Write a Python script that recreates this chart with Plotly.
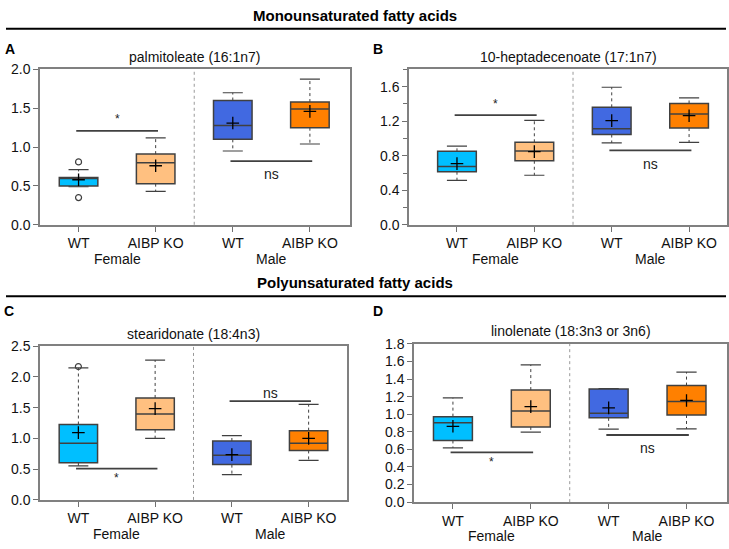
import plotly.graph_objects as go

W, H = 729, 549

groups = ["WT", "AIBP KO", "WT", "AIBP KO"]
sexes = ["Female", "Male"]
colors = ["#00BFFF", "#FFC080", "#4169E1", "#FF8000"]

# Panel A: palmitoleate (16:1n7)
A_q1 = [0.50, 0.53, 1.10, 1.25]
A_med = [0.60, 0.80, 1.28, 1.49]
A_q3 = [0.61, 0.91, 1.60, 1.58]
A_lo = [0.49, 0.43, 0.95, 1.04]
A_hi = [0.71, 1.12, 1.70, 1.875]
A_mean = [0.58, 0.76, 1.31, 1.46]
A_out_x = [0, 0]
A_out_y = [0.81, 0.35]

# Panel B: 10-heptadecenoate (17:1n7)
B_q1 = [0.615, 0.742, 1.046, 1.121]
B_med = [0.675, 0.855, 1.114, 1.283]
B_q3 = [0.851, 0.956, 1.361, 1.406]
B_lo = [0.514, 0.574, 0.949, 0.956]
B_hi = [0.911, 1.211, 1.594, 1.47]
B_mean = [0.709, 0.848, 1.207, 1.264]
B_out_x = []
B_out_y = []

# Panel C: stearidonate (18:4n3)
C_q1 = [0.605, 1.142, 0.574, 0.805]
C_med = [0.921, 1.395, 0.726, 0.921]
C_q3 = [1.226, 1.658, 0.958, 1.126]
C_lo = [0.553, 1.0, 0.41, 0.642]
C_hi = [2.147, 2.274, 1.047, 1.553]
C_mean = [1.095, 1.484, 0.737, 1.0]
C_out_x = [0]
C_out_y = [2.168]

# Panel D: linolenate (18:3n3 or 3n6)
D_q1 = [0.702, 0.856, 0.959, 0.992]
D_med = [0.904, 1.036, 1.01, 1.146]
D_q3 = [0.973, 1.275, 1.286, 1.326]
D_lo = [0.617, 0.797, 0.83, 0.834]
D_hi = [1.187, 1.561, 1.293, 1.48]
D_mean = [0.863, 1.087, 1.073, 1.157]
D_out_x = []
D_out_y = []

# significance bars: (x0, x1, y, label, label_y)
A_sig = [(0.0, 1.0, 1.21, "*", 1.36), (2.0, 3.0, 0.82, "ns", 0.65)]
B_sig = [(0.0, 1.0, 1.271, "*", 1.40), (2.0, 3.0, 0.862, "ns", 0.71)]
C_sig = [(0.0, 1.0, 0.51, "*", 0.36), (2.0, 3.0, 1.605, "ns", 1.74)]
D_sig = [(0.0, 1.0, 0.566, "*", 0.46), (2.0, 3.0, 0.764, "ns", 0.617)]

titles = ["palmitoleate (16:1n7)", "10-heptadecenoate (17:1n7)",
          "stearidonate (18:4n3)", "linolenate (18:3n3 or 3n6)"]
letters = ["A", "B", "C", "D"]

FONT = "Liberation Sans, Arial, sans-serif"
EDGE = "#404040"


def px_x(p):
    return p / W


def px_y(p):
    return 1 - p / H


# plot-area pixel boxes (left, right, top, bottom)
boxes = [(40, 350, 63.3, 223.3), (409, 727, 63.3, 223.3),
         (40, 347, 348.3, 506.7), (414, 727, 346, 509)]
xranges = [[-0.5, 3.52], [-0.62, 3.49], [-0.5, 3.5], [-0.5, 3.52]]

panels = [
    (A_q1, A_med, A_q3, A_lo, A_hi, A_mean, A_out_x, A_out_y, A_sig),
    (B_q1, B_med, B_q3, B_lo, B_hi, B_mean, B_out_x, B_out_y, B_sig),
    (C_q1, C_med, C_q3, C_lo, C_hi, C_mean, C_out_x, C_out_y, C_sig),
    (D_q1, D_med, D_q3, D_lo, D_hi, D_mean, D_out_x, D_out_y, D_sig),
]

fig = go.Figure()
annotations = []
shapes = []
cap = 0.13

for k, (q1, med, q3, lo, hi, mean, ox, oy, sig) in enumerate(panels):
    xa = "x" if k == 0 else f"x{k+1}"
    ya = "y" if k == 0 else f"y{k+1}"
    for i in range(4):
        fig.add_trace(go.Scatter(x=[i, i, None, i, i], y=[q3[i], hi[i], None, q1[i], lo[i]],
                                 mode="lines", line=dict(color=EDGE, width=1, dash="dot"),
                                 xaxis=xa, yaxis=ya, showlegend=False, hoverinfo="skip"))
        fig.add_trace(go.Scatter(x=[i - cap, i + cap, None, i - cap, i + cap],
                                 y=[hi[i], hi[i], None, lo[i], lo[i]],
                                 mode="lines", line=dict(color=EDGE, width=1.2),
                                 xaxis=xa, yaxis=ya, showlegend=False, hoverinfo="skip"))
        fig.add_trace(go.Box(x=[i], q1=[q1[i]], median=[med[i]], q3=[q3[i]],
                             lowerfence=[q1[i]], upperfence=[q3[i]],
                             fillcolor=colors[i], line=dict(color=EDGE, width=1.5),
                             width=0.5, whiskerwidth=0, boxpoints=False,
                             xaxis=xa, yaxis=ya, showlegend=False, hoverinfo="skip"))
    fig.add_trace(go.Scatter(x=[0, 1, 2, 3], y=mean, mode="markers",
                             marker=dict(symbol="cross-thin", size=9,
                                         line=dict(color="black", width=1.3)),
                             xaxis=xa, yaxis=ya, showlegend=False, hoverinfo="skip"))
    if ox:
        fig.add_trace(go.Scatter(x=ox, y=oy, mode="markers",
                                 marker=dict(symbol="circle-open", size=6,
                                             line=dict(color=EDGE, width=1.2), color=EDGE),
                                 xaxis=xa, yaxis=ya, showlegend=False, hoverinfo="skip"))
    for (x0, x1, yv, lab, ly) in sig:
        fig.add_trace(go.Scatter(x=[x0 - 0.03, x1 + 0.03], y=[yv, yv], mode="lines",
                                 line=dict(color=EDGE, width=1.8),
                                 xaxis=xa, yaxis=ya, showlegend=False, hoverinfo="skip"))
        annotations.append(dict(x=(x0 + x1) / 2, y=ly, xref=xa, yref=ya, text=lab,
                                showarrow=False, yanchor="middle",
                                font=dict(size=14 if lab == "ns" else 12,
                                          family=FONT, color="#222")))
    shapes.append(dict(type="line", xref=xa, yref=f"{ya} domain", x0=1.5, x1=1.5, y0=0, y1=1,
                       line=dict(color="#999999", width=1, dash="dot")))
    l, r, t, b = boxes[k]
    annotations.append(dict(x=0.5, xref=f"{xa} domain", y=px_y(t - 13), yref="paper",
                            text=titles[k], showarrow=False, yanchor="middle",
                            font=dict(size=14, family=FONT, color="#111")))
    for j, s in enumerate(sexes):
        annotations.append(dict(x=0.5 + 2 * j, xref=xa, y=px_y(b + 35), yref="paper",
                                text=s, showarrow=False, yanchor="middle",
                                font=dict(size=14, family=FONT, color="#111")))

letter_pos = [(10, 42), (378, 42), (9, 312), (378, 312)]
for k, (lx, ly) in enumerate(letter_pos):
    annotations.append(dict(x=px_x(lx), y=px_y(ly), xref="paper", yref="paper",
                            xanchor="center", yanchor="middle",
                            text=f"<b>{letters[k]}</b>", showarrow=False,
                            font=dict(size=14, family=FONT, color="black")))

HFONT = "Liberation Sans Narrow, Arial Narrow, Liberation Sans, sans-serif"
for txt, ty, ly in [("Monounsaturated fatty acids", 8, 21.5),
                    ("Polyunsaturated fatty acids", 283, 297)]:
    annotations.append(dict(x=px_x(355), y=px_y(ty), xref="paper", yref="paper",
                            xanchor="center", text=f"<b>{txt}</b>", showarrow=False,
                            yanchor="middle",
                            font=dict(size=15, family=HFONT, color="black")))
    shapes.append(dict(type="line", xref="paper", yref="paper", x0=px_x(6), x1=px_x(726),
                       y0=px_y(ly), y1=px_y(ly), line=dict(color="black", width=2)))

layout = dict(width=W, height=H, margin=dict(l=0, r=0, t=0, b=0),
              plot_bgcolor="white", paper_bgcolor="white",
              annotations=annotations, shapes=shapes,
              font=dict(family=FONT, size=14, color="#111"))

yspecs = [dict(range=[0, 2.0], tickvals=[0, 0.5, 1.0, 1.5, 2.0]),
          dict(range=[0, 1.8], tickvals=[0, 0.4, 0.8, 1.2, 1.6],
               minor=dict(tickvals=[0.2, 0.6, 1.0, 1.4, 1.8], ticks="outside", ticklen=4,
                          tickcolor="#707070")),
          dict(range=[0, 2.5], tickvals=[0, 0.5, 1.0, 1.5, 2.0, 2.5]),
          dict(range=[0, 1.8], tickvals=[round(0.2 * i, 1) for i in range(10)])]

for k in range(4):
    l, r, t, b = boxes[k]
    suffix = "" if k == 0 else str(k + 1)
    layout[f"xaxis{suffix}"] = dict(domain=[px_x(l), px_x(r)], range=xranges[k],
                                    anchor=f"y{suffix}", tickvals=[0, 1, 2, 3],
                                    ticktext=groups, ticks="outside", ticklen=5,
                                    tickcolor="#707070", showline=True, mirror=True,
                                    linecolor="#808080", linewidth=1.5, showgrid=False,
                                    zeroline=False, tickfont=dict(size=14, family=FONT))
    ys = yspecs[k]
    layout[f"yaxis{suffix}"] = dict(domain=[px_y(b), px_y(t)], anchor=f"x{suffix}",
                                    ticks="outside", ticklen=5, tickcolor="#707070",
                                    showline=True, mirror=True, linecolor="#808080",
                                    linewidth=1.5, showgrid=False, zeroline=False,
                                    tickformat=".1f", tickfont=dict(size=14, family=FONT),
                                    **ys)

fig.update_layout(**layout)
fig.write_html("out.html", config={"displayModeBar": False},
               post_script="document.body.style.margin='0';"
                           "document.documentElement.style.overflow='hidden';")
